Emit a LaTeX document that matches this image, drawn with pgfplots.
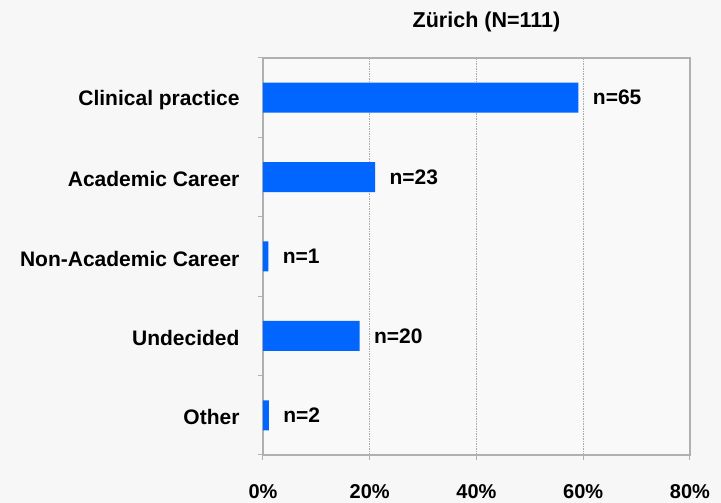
\documentclass[border=0pt]{standalone}
\usepackage{pgfplots}
\pgfplotsset{compat=1.18}
\usepackage{fontspec}
\setmainfont{Liberation Sans}
\definecolor{bg}{RGB}{247,247,247}
\definecolor{plotbg}{RGB}{249,249,249}
\definecolor{barblue}{RGB}{0,102,255}
\definecolor{axgray}{RGB}{176,176,176}
\definecolor{gridgray}{RGB}{170,170,170}
\begin{document}
\begin{tikzpicture}[x=1pt,y=1pt]
\fill[bg] (-263,-48) rectangle (458,455);
\begin{axis}[
  at={(0,0)}, anchor=south west,
  scale only axis, width=427pt, height=397pt,
  xbar, bar width=30pt, bar shift=0pt,
  xmin=0, xmax=80, ymin=-0.5, ymax=4.5,
  axis background/.style={fill=plotbg},
  axis line style={axgray, line width=1.5pt},
  xtick pos=bottom, ytick pos=left,
  xtick={0,20,40,60,80},
  xticklabels={0\%,20\%,40\%,60\%,80\%},
  xmajorgrids, grid style={gridgray, dash pattern=on 1.5pt off 1pt, line width=0.5pt},
  x tick style={axgray, line width=1pt},
  tick align=outside, major tick length=5pt,
  xticklabel style={font=\fontsize{20}{24}\selectfont\bfseries, yshift=-21pt},
  ytick={0,1,2,3,4},
  yticklabels={Other,Undecided,Non-Academic Career,Academic Career,Clinical practice},
  y tick style={draw=none},
  yticklabel style={font=\fontsize{21}{25}\selectfont\bfseries, xshift=-15pt, yshift=-2pt},
  extra y ticks={-0.5,0.5,1.5,2.5,3.5,4.5},
  extra y tick labels={},
  extra y tick style={y tick style={draw=axgray, line width=1pt}, grid=none},
  nodes near coords,
  point meta=explicit symbolic,
  every node near coord/.append style={font=\fontsize{21}{25}\selectfont\bfseries, black, anchor=west, xshift=11pt},
  clip=false,
  title={Zürich (N=111)},
  title style={font=\fontsize{21.5}{25}\selectfont\bfseries, yshift=17pt, xshift=10pt},
]
\addplot[fill=barblue, draw=none] coordinates {
  (59.1,4) [n=65]
  (21.0,3) [n=23]
  (1.0,2) [n=1]
  (18.1,1) [n=20]
  (1.1,0) [n=2]
};
\end{axis}
\end{tikzpicture}
\end{document}
